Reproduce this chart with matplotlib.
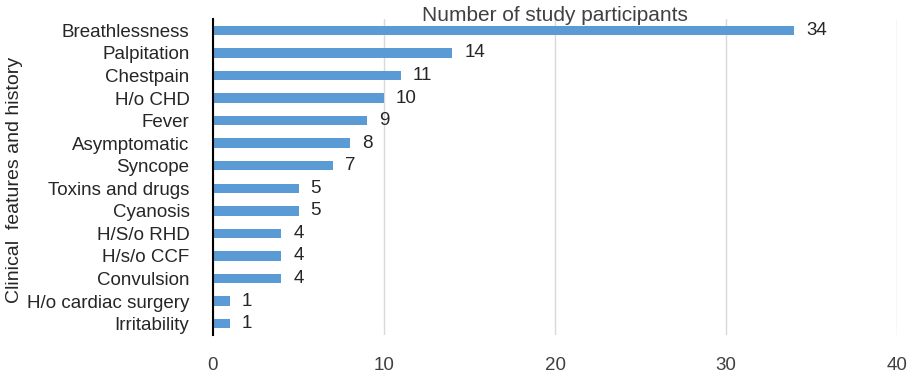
import matplotlib
matplotlib.use("Agg")
import matplotlib.pyplot as plt

categories = ["Breathlessness", "Palpitation", "Chestpain", "H/o CHD", "Fever",
              "Asymptomatic", "Syncope", "Toxins and drugs", "Cyanosis",
              "H/S/o RHD", "H/s/o CCF", "Convulsion", "H/o cardiac surgery", "Irritability"]
values = [34, 14, 11, 10, 9, 8, 7, 5, 5, 4, 4, 4, 1, 1]
xticks = [0, 10, 20, 30, 40]

plt.rcParams['font.family'] = ['Liberation Sans', 'DejaVu Sans']
fig = plt.figure(figsize=(9.14, 3.87), dpi=100)
ax = fig.add_axes([213/914, 1 - 335/387, (897-213)/914, (335-19)/387])

pos = list(range(len(categories)))
ax.barh(pos, values, height=0.42, color="#5B9BD5")
ax.set_ylim(len(categories) - 0.5, -0.5)
ax.set_xlim(0, 40)
ax.set_xticks(xticks)
ax.set_yticks(pos)
ax.set_yticklabels(categories)
for p, v in zip(pos, values):
    ax.annotate(str(v), (v, p), xytext=(12, 0), textcoords="offset pixels",
                va="center", ha="left", fontsize=13.5, color="#262626")

ax.grid(axis="x", color="#d9d9d9", linewidth=1)
ax.set_axisbelow(True)
for s in ["top", "right", "bottom"]:
    ax.spines[s].set_visible(False)
ax.spines["left"].set_color("black")
ax.spines["left"].set_linewidth(1.5)
ax.tick_params(axis="y", length=0, pad=17, labelsize=13.5, labelcolor="#262626")
ax.tick_params(axis="x", length=0, pad=16, labelsize=13.5, labelcolor="#404040")
ax.text(0.5, 1.0 - 2/316, "Number of study participants", transform=ax.transAxes,
        ha="center", va="baseline", fontsize=15, color="#404040")
ax.set_ylabel("Clinical  features and history", fontsize=14, color="#262626")
ax.yaxis.set_label_coords(-190/684, 0.49)

fig.savefig("out.png", dpi=100)
